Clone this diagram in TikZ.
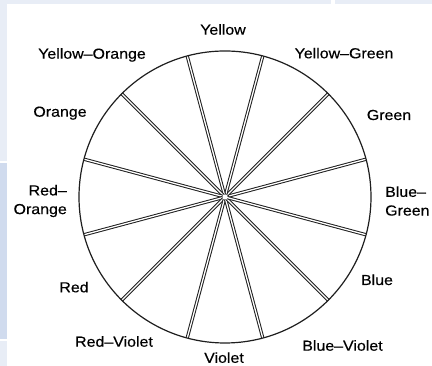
\documentclass[tikz,border=0pt]{standalone}
\usepackage{fontspec}
\setmainfont[FakeStretch=1.1,FakeBold=0.4]{Liberation Sans}
\usepackage{tikz}
\usetikzlibrary{positioning}

\definecolor{edgelight}{HTML}{E8EDF6}
\definecolor{edgedark}{HTML}{D0DBEE}
\definecolor{inkgray}{HTML}{1E1E1E}

\begin{document}
\begin{tikzpicture}[x=1pt, y=1pt, font=\fontsize{14.5}{18.7}\selectfont,
    spoke/.style={draw=inkgray, line width=1pt, double=white, double distance=1.3pt},
    hue/.style={anchor=base, inner sep=0pt}]
  \useasboundingbox (0,0) rectangle (432,366);
  % page edges
  \fill[edgelight] (0,205) rectangle (7,366);
  \fill[edgedark]  (0,27) rectangle (7,203);
  \fill[edgelight] (0,0) rectangle (7,25);
  \fill[edgelight] (7,362) rectangle (331,366);
  \fill[edgelight] (335,362) rectangle (432,366);
  % wheel
  \coordinate (c) at (225,169);
  \foreach \a in {15,45,...,345}
    \draw[spoke] (c) -- ++(\a:146pt);
  \fill[white] (c) circle (2.6);
  \draw[inkgray, line width=1.2pt] (c) circle (146);
  % Labels
  \node[hue] (yellow)  at (223,331.3) {Yellow};
  \node[hue] (yorange) at (92,307.3)  {Yellow–Orange};
  \node[hue] (ygreen)  at (344,307.7) {Yellow–Green};
  \node[hue] (orange)  at (60,249.3)  {Orange};
  \node[hue] (green)   at (389,246)   {Green};
  \node[anchor=east, align=right, inner sep=0pt] (rorange) at (67,165) {Red–\\Orange};
  \node[anchor=west, align=left, inner sep=0pt]  (bgreen)  at (385,165) {Blue–\\Green};
  \node[hue] (red)     at (74,73.7)   {Red};
  \node[hue] (blue)    at (377,81)    {Blue};
  \node[hue] (rviolet) at (114,19.3)  {Red–Violet};
  \node[hue] (bviolet) at (342.5,15.3) {Blue–Violet};
  \node[hue] (violet)  at (224,3.2)   {Violet};
\end{tikzpicture}
\end{document}
